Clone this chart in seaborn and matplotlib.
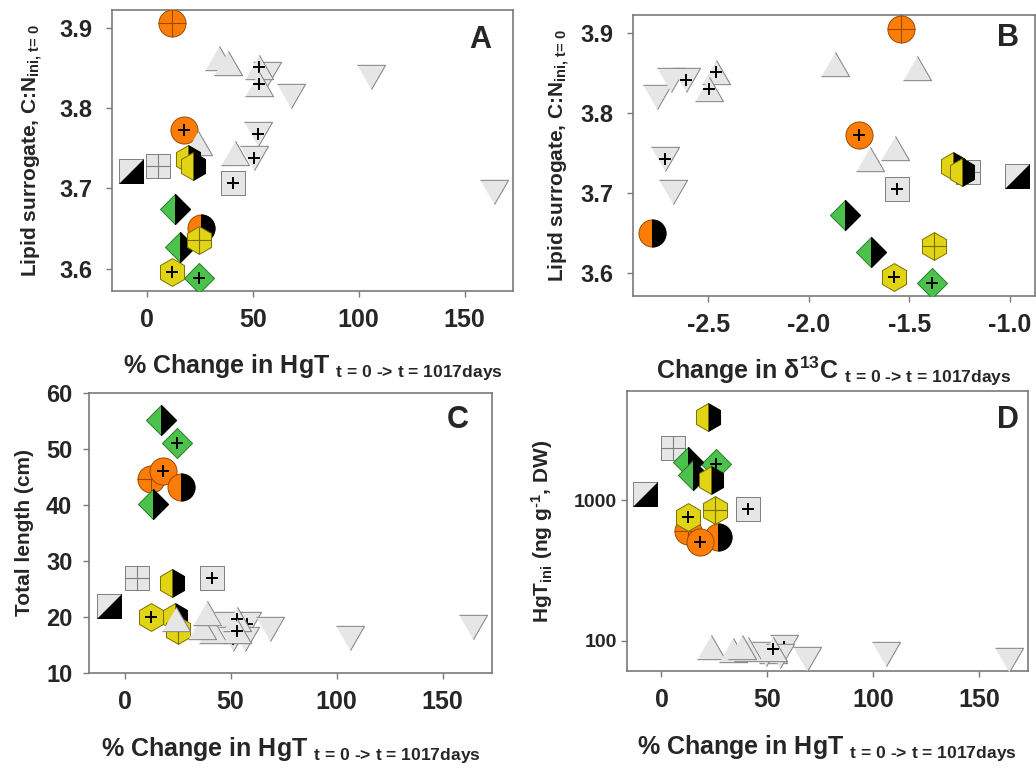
import numpy as np
import seaborn as sns
import matplotlib.pyplot as plt
from matplotlib.markers import MarkerStyle
from matplotlib.path import Path
from matplotlib.ticker import NullLocator

# values, listed in drawing order
# A : % change in HgT vs lipid surrogate C:N
kind_a = ['sq_diag', 'sq_cross', 'sq_plus', 'circ_cross', 'circ_plus', 'circ_half',
          'up', 'up', 'up', 'up', 'down', 'up_plus', 'up_plus', 'down', 'down', 'down',
          'down_plus', 'down_plus', 'dia_half', 'dia_half', 'dia_plus',
          'hex_half', 'hex_half', 'hex_cross', 'hex_plus']
hg_a = [-7.6, 5.5, 40.9, 12.1, 17.6, 25.6, 34.1, 38.5, 24.1, 41.7, 56.6, 53.1, 52.8,
        67.9, 105.8, 163.8, 52.4, 50.8, 13.3, 15.7, 24.7, 19.6, 21.7, 24.7, 11.8]
cn_a = [3.722, 3.728, 3.706, 3.906, 3.773, 3.651, 3.862, 3.856, 3.757, 3.744, 3.842,
        3.851, 3.830, 3.815, 3.838, 3.695, 3.768, 3.738, 3.674, 3.627, 3.588,
        3.737, 3.728, 3.635, 3.596]

# B : change in d13C vs C:N
kind_b = ['down', 'down', 'down_plus', 'up_plus', 'up_plus', 'down_plus', 'down', 'circ_half',
          'up', 'up', 'up', 'up', 'circ_cross', 'circ_plus', 'sq_plus', 'sq_cross', 'sq_diag',
          'hex_half', 'hex_half', 'hex_cross', 'hex_plus', 'dia_half', 'dia_half', 'dia_plus']
d13c_b = [-2.757, -2.687, -2.609, -2.462, -2.498, -2.714, -2.675, -2.778,
          -1.869, -1.463, -1.571, -1.695, -1.544, -1.751, -1.561, -1.208, -0.967,
          -1.282, -1.241, -1.377, -1.577, -1.821, -1.693, -1.390]
cn_b = [3.820, 3.842, 3.842, 3.852, 3.830, 3.743, 3.701, 3.650,
        3.862, 3.857, 3.757, 3.743, 3.906, 3.773, 3.705, 3.727, 3.721,
        3.734, 3.727, 3.634, 3.595, 3.673, 3.626, 3.588]

# C : % change in HgT vs total length
kind_c = ['sq_diag', 'sq_cross', 'sq_plus', 'hex_half', 'hex_plus', 'hex_half', 'hex_cross',
          'up', 'up', 'up', 'up', 'down', 'down_plus', 'down_plus', 'down', 'up_plus', 'up_plus',
          'down', 'down', 'down', 'circ_cross', 'circ_plus', 'circ_half',
          'dia_half', 'dia_plus', 'dia_half']
hg_c = [-7.4, 5.7, 41.0, 22.2, 12.3, 23.7, 25.0, 24.2, 41.5, 36.3, 38.7, 49.0, 57.5, 51.2,
        56.7, 52.8, 53.1, 68.6, 106.4, 164.3, 12.3, 17.9, 26.4, 17.0, 24.8, 13.5]
len_c = [21.9, 27.0, 27.0, 26.1, 20.0, 20.0, 17.7, 19.7, 17.5, 18.2, 20.8, 18.7, 18.8, 16.1,
         16.1, 19.7, 17.5, 17.8, 16.3, 18.3, 44.6, 46.1, 43.2, 55.2, 51.1, 40.1]

# D : % change in HgT vs initial HgT
kind_d = ['sq_cross', 'sq_diag', 'sq_plus', 'hex_half', 'dia_plus', 'dia_half', 'dia_half',
          'hex_half', 'circ_cross', 'circ_half', 'circ_plus', 'hex_cross', 'hex_plus',
          'up', 'up', 'up', 'up', 'up_plus', 'down', 'down_plus', 'down', 'up_plus',
          'down', 'down', 'down']
hg_d = [5.5, -7.6, 40.9, 22.0, 25.6, 12.6, 14.9, 23.3, 12.3, 26.7, 18.1, 25.2, 12.3,
        23.6, 34.0, 41.0, 38.2, 52.8, 49.6, 58.0, 55.9, 52.7, 68.5, 106.2, 164.0]
hgt_d = [2355, 1097, 859, 3875, 1803, 1872, 1506, 1388, 600, 548, 506, 849, 754,
         90, 86, 87, 90, 84, 80, 90, 78, 88, 74, 80.4, 73]

sns.set_theme(style="ticks")
plt.rcParams['font.family'] = ['Liberation Sans', 'DejaVu Sans']
plt.rcParams['font.weight'] = 'bold'
plt.rcParams['axes.labelweight'] = 'bold'
plt.rcParams['mathtext.fontset'] = 'custom'
plt.rcParams['mathtext.rm'] = 'Liberation Sans:bold'
plt.rcParams['mathtext.it'] = 'Liberation Sans:bold'
plt.rcParams['mathtext.bf'] = 'Liberation Sans:bold'
plt.rcParams['axes.unicode_minus'] = False

ORANGE, ORANGE_EDGE = '#fb7d07', '#9a4a00'
YELLOW, YELLOW_EDGE = '#e0d414', '#7a7000'
GREEN, GREEN_EDGE = '#4cc24c', '#2a7a2a'
GREY, GREY_EDGE = '#e6e6e6', '#7f7f7f'

TRI_UP = MarkerStyle(np.array([[-1, -0.866], [1, -0.866], [0, 0.866]]))
TRI_DN = MarkerStyle(np.array([[-1, 0.866], [1, 0.866], [0, -0.866]]))
DIAG = MarkerStyle(np.array([[-1, -1], [1, -1], [1, 1]]))
HEX_CROSS = MarkerStyle(Path([[0, -1], [0, 1], [-0.866, 0], [0.866, 0]],
                             [Path.MOVETO, Path.LINETO, Path.MOVETO, Path.LINETO]))

shapes = {
    'circ': ('o', 380, ORANGE, ORANGE_EDGE),
    'hex': ('h', 400, YELLOW, YELLOW_EDGE),
    'dia': ('D', 235, GREEN, GREEN_EDGE),
    'sq': ('s', 310, GREY, GREY_EDGE),
    'up': (TRI_UP, 410, GREY, GREY_EDGE),
    'down': (TRI_DN, 410, GREY, GREY_EDGE),
}


def draw(ax, kinds, xs, ys):
    for i, (k, x, y) in enumerate(zip(kinds, xs, ys)):
        shape, _, mod = k.partition('_')
        m, s, fc, ec = shapes[shape]
        z = 3 + i * 0.02
        sns.scatterplot(x=[x], y=[y], ax=ax, marker=m, s=s, color=fc, edgecolor=ec,
                        linewidth=0.7, zorder=z, legend=False)
        if mod == 'half':
            sns.scatterplot(x=[x], y=[y], ax=ax, marker=MarkerStyle(m, fillstyle='right'), s=s,
                            color='black', edgecolor='black', linewidth=0.7, zorder=z + 0.01, legend=False)
        elif mod == 'diag':
            sns.scatterplot(x=[x], y=[y], ax=ax, marker=DIAG, s=s, color='black',
                            edgecolor='black', linewidth=0.7, zorder=z + 0.01, legend=False)
        elif mod == 'plus':
            sns.scatterplot(x=[x], y=[y], ax=ax, marker='+', s=75, color='black',
                            linewidth=1.4, zorder=z + 0.01, legend=False)
        elif mod == 'cross':
            if shape == 'hex':
                sns.scatterplot(x=[x], y=[y], ax=ax, marker=HEX_CROSS, s=s, facecolor='none',
                                edgecolor=ec, linewidth=0.8, zorder=z + 0.01, legend=False)
            else:
                sns.scatterplot(x=[x], y=[y], ax=ax, marker='+', s=s, color=ec,
                                linewidth=0.8, zorder=z + 0.01, legend=False)


def finish(ax, letter, lx, ly, ylab_x, xlab_y, ypad=10):
    for sp in ax.spines.values():
        sp.set_visible(True)
        sp.set_color('#7a7a7a')
        sp.set_linewidth(1.2)
    ax.tick_params(direction='out', length=4, width=1, color='#7a7a7a', labelsize=18, pad=8)
    ax.tick_params(axis='y', pad=ypad, labelsize=17)
    ax.text(lx, ly, letter, transform=ax.transAxes, ha='center', va='center',
            fontsize=22, fontweight='bold')
    ax.yaxis.set_label_coords(ylab_x, 0.5)
    ax.xaxis.set_label_coords(0.5, xlab_y)


xsub = r'$_{\text{t = 0 -> t = 1017days}}$'

fig = plt.figure(figsize=(10.36, 7.7), dpi=100)

axA = fig.add_axes([0.1081, 0.622, 0.387, 0.365])
draw(axA, kind_a, hg_a, cn_a)
axA.set_xlim(-16.4, 172.8)
axA.set_ylim(3.572, 3.922)
axA.set_xticks([0, 50, 100, 150])
axA.set_yticks([3.6, 3.7, 3.8, 3.9])
axA.set_xlabel('% Change in HgT ' + xsub, fontsize=18, va='top')
axA.set_ylabel(r'Lipid surrogate, C:N$_{\text{ini, t= 0}}$', fontsize=15)
finish(axA, 'A', 0.918, 0.893, -0.168, -0.217)

axB = fig.add_axes([0.611, 0.6156, 0.388, 0.365])
draw(axB, kind_b, d13c_b, cn_b)
axB.set_xlim(-2.874, -0.876)
axB.set_ylim(3.5716, 3.923)
axB.set_xticks([-2.5, -2.0, -1.5, -1.0])
axB.set_xticklabels(['-2.5', '-2.0', '-1.5', '-1.0'])
axB.set_yticks([3.6, 3.7, 3.8, 3.9])
axB.set_xlabel(r'Change in δ$^{\text{13}}$C ' + xsub, fontsize=18, va='top')
axB.set_ylabel(r'Lipid surrogate, C:N$_{\text{ini, t= 0}}$', fontsize=15)
finish(axB, 'B', 0.934, 0.917, -0.152, -0.21)

axC = fig.add_axes([0.0859, 0.126, 0.389, 0.3636])
draw(axC, kind_c, hg_c, len_c)
axC.set_xlim(-16.8, 173.3)
axC.set_ylim(10, 60)
axC.set_xticks([0, 50, 100, 150])
axC.set_yticks([10, 20, 30, 40, 50, 60])
axC.set_xlabel('% Change in HgT ' + xsub, fontsize=18, va='top')
axC.set_ylabel('Total length (cm)', fontsize=15)
finish(axC, 'C', 0.916, 0.904, -0.137, -0.221, ypad=8)

axD = fig.add_axes([0.605, 0.1286, 0.387, 0.3636])
draw(axD, kind_d, hg_d, hgt_d)
axD.set_yscale('log')
axD.set_xlim(-16.4, 173)
axD.set_ylim(61, 5960)
axD.set_xticks([0, 50, 100, 150])
axD.set_yticks([100, 1000])
axD.set_yticklabels(['100', '1000'])
axD.yaxis.set_minor_locator(NullLocator())
axD.set_xlabel('% Change in HgT ' + xsub, fontsize=18, va='top')
axD.set_ylabel(r'HgT$_{\text{ini}}$ (ng g$^{\text{-1}}$, DW)', fontsize=15)
finish(axD, 'D', 0.951, 0.896, -0.18, -0.221, ypad=3)
axD.tick_params(axis='y', labelsize=14)

fig.savefig('out.png', dpi=100)
